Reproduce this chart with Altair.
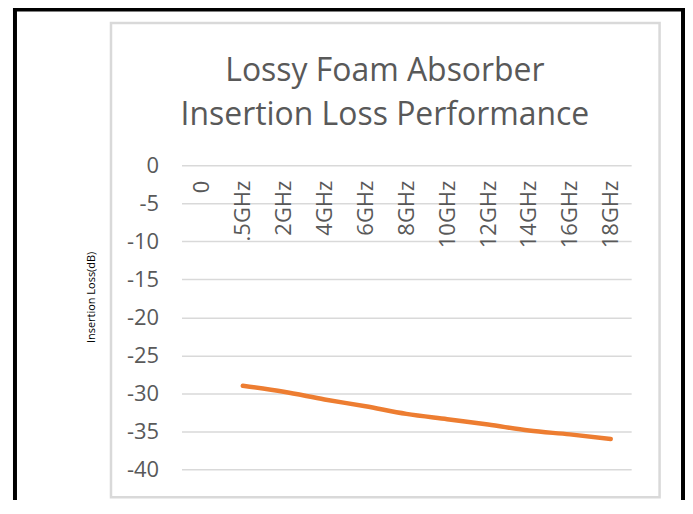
import altair as alt
import pandas as pd

# ---- data ----
CATEGORIES = ["0", ".5GHz", "2GHz", "4GHz", "6GHz", "8GHz", "10GHz", "12GHz", "14GHz", "16GHz", "18GHz"]
POINT_CATS = [".5GHz", "2GHz", "4GHz", "6GHz", "8GHz", "10GHz", "12GHz", "14GHz", "16GHz", "18GHz"]
LOSS_DB = [-29.0, -29.8, -30.8, -31.7, -32.7, -33.4, -34.1, -34.9, -35.4, -36.0]
Y_TICKS = [0, -5, -10, -15, -20, -25, -30, -35, -40]
TITLE_LINES = ["Lossy Foam Absorber", "Insertion Loss Performance"]
Y_TITLE = "Insertion Loss(dB)"

df = pd.DataFrame({"freq": POINT_CATS, "loss": LOSS_DB})
one = pd.DataFrame({"k": [0]})

W, H = 451, 305
GRAY = "#d9d9d9"
TXT = "#595959"

x_enc = alt.X(
    "freq:N",
    sort=CATEGORIES,
    scale=alt.Scale(domain=CATEGORIES, paddingInner=0, paddingOuter=0),
    axis=alt.Axis(
        orient="bottom", offset=-H, title=None, domain=False, ticks=False,
        grid=False, labelAngle=270, labelPadding=15, labelFontSize=22,
        labelColor=TXT, labelOverlap=False, labelFlush=False, labelBound=False,
    ),
)
y_enc = alt.Y(
    "loss:Q",
    scale=alt.Scale(domain=[-40, 0], nice=False),
    axis=alt.Axis(
        values=Y_TICKS, title=Y_TITLE, titleFontSize=11, titleFontWeight="normal",
        titleColor="#000000", titleAngle=270, titleX=-90, titleY=132,
        titleAlign="center", titleBaseline="middle",
        domain=False, ticks=False, labelPadding=23, labelFontSize=22,
        labelColor=TXT, labelExpr="'' + datum.value", grid=True,
        gridColor=GRAY, gridWidth=1.5,
    ),
)

# decorative frames (Excel chart-area border and the outer black border)
frame = alt.Chart(one).mark_rect(fill="transparent", stroke=GRAY, strokeWidth=2.5).encode(
    x=alt.value(-70.7), x2=alt.value(479.5), y=alt.value(-142.7), y2=alt.value(333)
)
black_top = alt.Chart(one).mark_rect(color="#000000").encode(
    x=alt.value(-169), x2=alt.value(505), y=alt.value(-158), y2=alt.value(-154.3)
)
black_left = alt.Chart(one).mark_rect(color="#000000").encode(
    x=alt.value(-169), x2=alt.value(-165), y=alt.value(-158), y2=alt.value(340)
)
black_right = alt.Chart(one).mark_rect(color="#000000").encode(
    x=alt.value(501), x2=alt.value(505), y=alt.value(-158), y2=alt.value(340)
)

line = alt.Chart(df).mark_line(
    color="#ED7D31", strokeWidth=4.5, strokeCap="round", strokeJoin="round",
    interpolate="monotone",
).encode(x=x_enc, y=y_enc)

chart = alt.layer(frame, black_top, black_left, black_right, line).properties(
    width=W, height=H,
    title=alt.TitleParams(
        text=TITLE_LINES, fontSize=32, fontWeight="normal", color=TXT,
        anchor="middle", lineHeight=45, dx=-21.5, dy=129,
    ),
    autosize=alt.AutoSizeParams(type="none"),
    padding={"left": 174, "top": 157, "right": 54, "bottom": 30},
    background="#ffffff",
).configure(font="Open Sans").configure_view(strokeOpacity=0)

chart.save("out.html", embed_options={"renderer": "svg", "actions": False})
